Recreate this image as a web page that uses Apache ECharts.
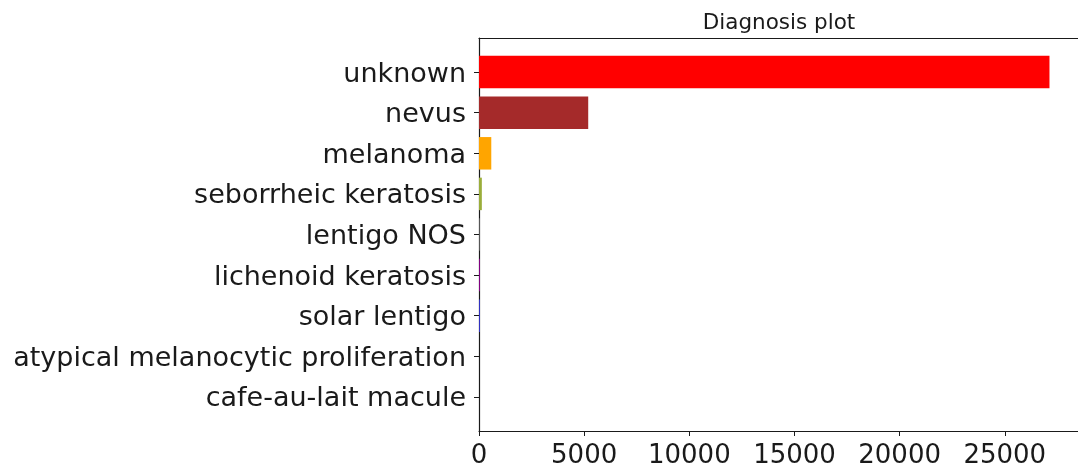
<!DOCTYPE html>
<html>
<head>
<meta charset="utf-8">
<script src="https://cdn.jsdelivr.net/npm/echarts@6/dist/echarts.min.js"></script>
<style>
  html, body { margin: 0; padding: 0; background: #ffffff; }
  #chart { width: 1078px; height: 472px; }
</style>
</head>
<body>
<div id="chart"></div>
<script>
// Diagnosis counts, most frequent first (drawn top to bottom)
const categories = [
  'unknown',
  'nevus',
  'melanoma',
  'seborrheic keratosis',
  'lentigo NOS',
  'lichenoid keratosis',
  'solar lentigo',
  'atypical melanocytic proliferation',
  'cafe-au-lait macule'
];
const counts = [27124, 5193, 584, 135, 44, 37, 7, 1, 1];
const barColors = ['#ff0000', '#a52a2a', '#ffa500', '#9aad3a', '#555555', '#800080', '#3030c0', '#ffc0cb', '#00ffff'];
const xTicks = [0, 5000, 10000, 15000, 20000, 25000];

const FONT = 'DejaVu Sans';
const xMax = Math.max(...counts) * 1.05;
const yPad = 0.84;
const barThickness = 0.8;
const positions = categories.map((_, i) => i);

const chart = echarts.init(document.getElementById('chart'), null, { renderer: 'canvas' });

chart.setOption({
  animation: false,
  backgroundColor: '#ffffff',
  title: {
    text: 'Diagnosis plot',
    left: 774,
    textAlign: 'center',
    top: 7,
    textStyle: { fontFamily: FONT, fontSize: 21.5, fontWeight: 'normal', color: '#1a1a1a' }
  },
  grid: { left: 479, top: 38, right: -3, bottom: 41, containLabel: false },
  xAxis: [{
    type: 'value',
    position: 'bottom',
    min: 0,
    max: xMax,
    splitLine: { show: false },
    axisLine: { show: true, onZero: false, lineStyle: { color: '#1a1a1a', width: 1.2 } },
    axisTick: { show: true, length: 5, customValues: xTicks, lineStyle: { color: '#1a1a1a' } },
    axisLabel: {
      customValues: xTicks,
      margin: 12,
      fontFamily: FONT, fontSize: 26, color: '#1a1a1a',
      formatter: v => String(v)
    }
  }, {
    type: 'value',
    position: 'top',
    min: 0,
    max: xMax,
    splitLine: { show: false },
    axisLine: { show: true, onZero: false, lineStyle: { color: '#1a1a1a', width: 1.2 } },
    axisTick: { show: false },
    axisLabel: { show: false }
  }],
  yAxis: {
    type: 'value',
    inverse: true,
    min: -yPad,
    max: categories.length - 1 + yPad,
    splitLine: { show: false },
    axisLine: { show: true, onZero: false, lineStyle: { color: '#1a1a1a', width: 1.2 } },
    axisTick: { show: true, length: 5, customValues: positions, lineStyle: { color: '#1a1a1a' } },
    axisLabel: {
      customValues: positions,
      margin: 13,
      formatter: v => '{name|' + (categories[Math.round(v)] || '') + '}',
      rich: {
        name: {
          fontFamily: FONT, fontSize: 27, color: '#1a1a1a',
          padding: [5, 0, 0, 0]
        }
      }
    }
  },
  series: [{
    type: 'custom',
    xAxisIndex: 0,
    yAxisIndex: 0,
    z: 5,
    data: counts.map((c, i) => [c, i]),
    encode: { x: 0, y: 1 },
    renderItem: (params, api) => {
      const value = api.value(0);
      const idx = api.value(1);
      const start = api.coord([0, idx]);
      const end = api.coord([value, idx]);
      const h = api.size([0, barThickness])[1];
      let w = end[0] - start[0];
      // thin bars still occupy at least one device pixel once they pass a tenth of one
      if (w > 0.1 && w < 1) w = 1;
      else if (w <= 0.1) w = 0;
      return {
        type: 'rect',
        shape: { x: start[0], y: start[1] - h / 2, width: w, height: h },
        style: { fill: barColors[idx] }
      };
    }
  }]
});
</script>
</body>
</html>
